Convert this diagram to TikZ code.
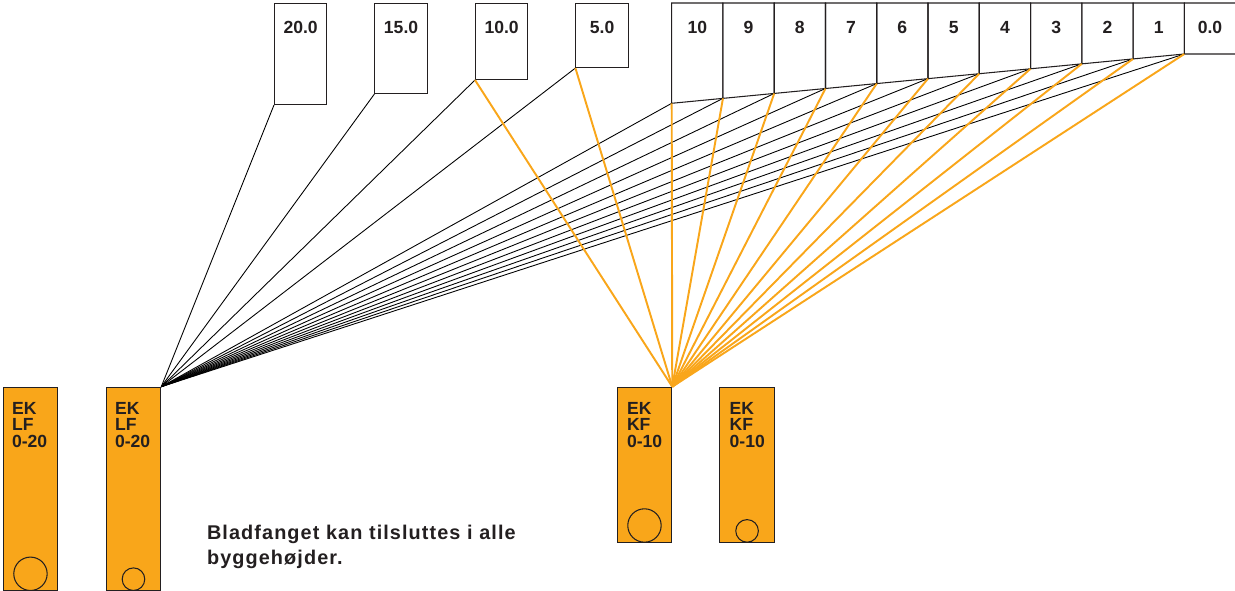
\documentclass[tikz,border=0pt]{standalone}
\usepackage{fontspec}
\setmainfont{Liberation Sans}
\newfontfamily\notefont[LetterSpace=5.5]{Liberation Sans}
\usepackage{tikz}
\usetikzlibrary{
  positioning
}
\definecolor{ekorange}{RGB}{249,166,26}
\definecolor{ekgray}{RGB}{35,31,32}
\tikzset{
  hbox/.style={draw=ekgray, line width=0.6pt, minimum width=1.046cm, inner sep=0pt, anchor=north west},
  hlab/.style={anchor=base, yshift=-0.62cm, inner sep=0pt, text=ekgray, font=\bfseries\fontsize{10}{12}\selectfont},
  hline/.style={draw=ekgray, line width=0.6pt},
  drain/.style={draw=ekgray, fill=ekorange, line width=0.6pt, minimum width=1.09cm, inner sep=0pt, anchor=north west},
  drainlab/.style={anchor=north west, align=left, inner sep=0pt, text=ekgray, font=\bfseries\fontsize{10}{9.25}\selectfont},
  hole/.style={circle, draw=ekgray, line width=0.6pt, inner sep=0pt, anchor=south},
  fan/.style={line width=0.5pt, black},
  fanorange/.style={line width=1.1pt, ekorange},
  note/.style={anchor=north west, align=left, inner sep=0pt, text=ekgray, font=\notefont\bfseries\fontsize{11.3}{14.2}\selectfont}
}

\begin{document}
\begin{tikzpicture}[x=0.02cm,y=-0.02cm]
  \useasboundingbox (0,0) rectangle (1235,591);
  % build heights, loose boxes
  \node[hbox, minimum height=2.02cm, label={[hlab]north:20.0}] (h20) at (274,3) {};
  \node[hbox, minimum height=1.80cm, label={[hlab]north:15.0}] (h15) at (374.4,3) {};
  \node[hbox, minimum height=1.52cm, label={[hlab]north:10.0}] (h10) at (475,3) {};
  \node[hbox, minimum height=1.28cm, label={[hlab]north:5.0}] (h5) at (575.4,3) {};
  % build heights, stepped row
  \foreach \i in {0,...,10}
    \coordinate (b\i) at ({671.7+51.26*\i},{103.3-4.93*\i});
  \foreach \i [evaluate=\i as \j using int(\i+1), evaluate=\i as \n using int(10-\i)] in {0,...,9} {
    \draw[hline] (b\i) -- (b\i |- 0,3) -- (b\j |- 0,3) -- (b\j) -- cycle;
    \node[hlab, yshift=0.62cm] (n\n) at ({671.7+51.26*(\i+0.5)},34) {\n};
  }
  \draw[hline] (b10) -- (b10 |- 0,3) -- (1236,3) -- (1236,54) -- cycle;
  \node[hlab, yshift=0.62cm] (n0) at (1210,34) {0.0};
  % drains
  \node[drain, minimum height=4.066cm] (lf1) at (2.7,386.7) {};
  \node[drain, minimum height=4.066cm] (lf2) at (105.7,386.7) {};
  \node[drain, minimum height=3.1cm] (kf1) at (616.7,386.7) {};
  \node[drain, minimum height=3.1cm] (kf2) at (719.3,386.7) {};
  \node[drainlab] (lf1t) at ([xshift=0.18cm,yshift=-0.312cm]lf1.north west) {EK\\LF\\0-20};
  \node[drainlab] (lf2t) at ([xshift=0.18cm,yshift=-0.312cm]lf2.north west) {EK\\LF\\0-20};
  \node[drainlab] (kf1t) at ([xshift=0.2cm,yshift=-0.312cm]kf1.north west) {EK\\KF\\0-10};
  \node[drainlab] (kf2t) at ([xshift=0.2cm,yshift=-0.312cm]kf2.north west) {EK\\KF\\0-10};
  \node[hole, minimum size=0.668cm] (lf1c) at (lf1.south) {};
  \node[hole, minimum size=0.452cm] (lf2c) at (lf2.south) {};
  \node[hole, minimum size=0.668cm] (kf1c) at (kf1.south) {};
  \node[hole, minimum size=0.452cm] (kf2c) at (kf2.south) {};
  % connections
  \foreach \i in {0,...,10}
    \draw[fan] (lf2.north east) -- (b\i);
  \foreach \h in {h20,h15,h10,h5}
    \draw[fan] (lf2.north east) -- (\h.south west);
  \foreach \i in {0,...,10}
    \draw[fanorange] (kf1.north east) -- (b\i);
  \foreach \h in {h10,h5}
    \draw[fanorange] (kf1.north east) -- (\h.south west);
  \node[note] (note) at (206.7,525) {Bladfanget kan tilsluttes i alle\\byggehøjder.};
\end{tikzpicture}
\end{document}
